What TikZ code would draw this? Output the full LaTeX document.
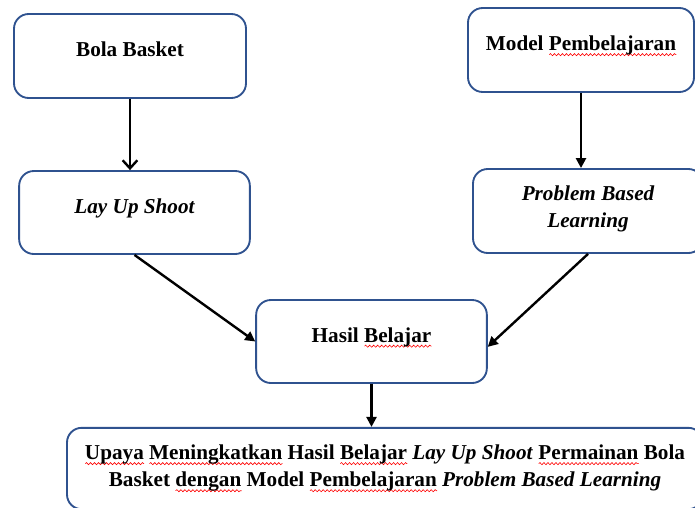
\documentclass[tikz,border=0pt]{standalone}
\usepackage{fontspec}
\setmainfont{Liberation Serif}
\usetikzlibrary{arrows.meta, decorations.pathmorphing}

\definecolor{boxblue}{RGB}{47,82,143}
% red spell-check wave under a word
\newlength{\sqwd}
\newcommand{\squig}[1]{\settowidth{\sqwd}{#1}\rlap{\tikz[baseline=0pt]\draw[red, line width=0.45pt, sharp corners,
  decorate, decoration={snake, amplitude=0.8pt, segment length=3pt}] (0pt,-3pt) -- (\sqwd,-3pt);}#1}

\begin{document}
\begin{tikzpicture}[
      x=0.75pt, y=-0.75pt,
      box/.style={rectangle, draw=boxblue, line width=1.4pt, rounded corners=11pt,
        align=center, inner sep=0pt, minimum width=173pt, minimum height=63pt,
        font=\fontsize{15.9}{20.3}\selectfont\bfseries, text depth=10pt},
      link/.style={->, line width=1.8pt},
      >={Triangle[length=7.5pt, width=7.5pt]}
    ]
    \useasboundingbox (0,0) rectangle (695,507);

    % Top row
    \node[box, minimum width=174pt] (bola) at (130,56) {Bola Basket};
    \node[box, minimum width=169.5pt] (model) at (581,50) {Model \squig{Pembelajaran}};

    % Middle row
    \node[box, minimum height=62.25pt] (layup) at (134.5,212.5) {\itshape Lay Up Shoot};
    \node[box, minimum width=172.5pt, text depth=6pt] (pbl) at (588,211) {\itshape Problem Based\\\itshape Learning};

    % Result
    \node[box, minimum height=62.25pt] (hasil) at (371.5,341.5) {Hasil \squig{Belajar}};
    \node[box, minimum width=477pt, minimum height=61pt, text depth=] (upaya) at (385,468.5)
      {\squig{Upaya} \squig{Meningkatkan} Hasil \squig{Belajar} \textit{Lay Up Shoot} \squig{Permainan} Bola\\
       Basket \squig{dengan} Model \squig{Pembelajaran} \textit{Problem Based Learning}};

    % Connections
    \draw[link, -{Straight Barb[length=6pt, width=11pt]}] (bola.south) -- (bola.south |- layup.north);
    \draw[link] (model.south) -- (model.south |- pbl.north);
    \draw[link] (layup.south) -- (hasil.west);
    \draw[link] (pbl.south) -- ([yshift=-4pt]hasil.east);
    \draw[link] (hasil.south) -- (hasil.south |- upaya.north);

\end{tikzpicture}
\end{document}
